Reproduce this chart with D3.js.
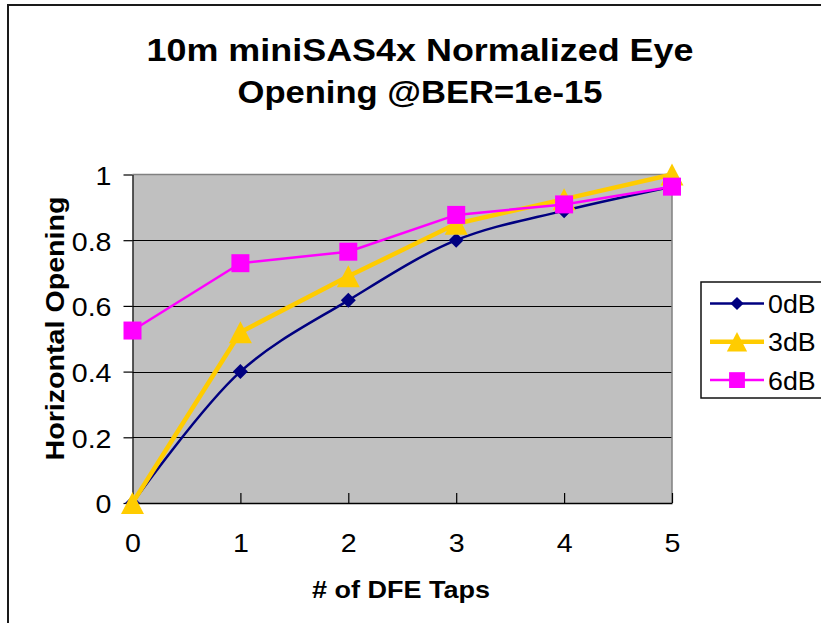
<!DOCTYPE html>
<html>
<head>
<meta charset="utf-8">
<script src="https://cdn.jsdelivr.net/npm/d3@7"></script>
<style>
  html, body { margin: 0; padding: 0; background: #fff; }
  svg { display: block; font-family: Arial, "Liberation Sans", sans-serif; }
</style>
</head>
<body>
<svg id="chart" width="821" height="623"></svg>
<script>
// DFE tap count on the x axis
const taps = [0, 1, 2, 3, 4, 5];
const tapLabels = ["0", "1", "2", "3", "4", "5"];
// Normalized horizontal eye opening per channel loss
const seriesNames = ["0dB", "3dB", "6dB"];
const open0dB = [0, 0.40, 0.617, 0.80, 0.89, 0.963];
const open3dB = [0, 0.52, 0.69, 0.85, 0.925, 1.0];
const open6dB = [0.525, 0.73, 0.765, 0.877, 0.909, 0.963];
const yTicks = [0, 0.2, 0.4, 0.6, 0.8, 1];
const yTickLabels = ["0", "0.2", "0.4", "0.6", "0.8", "1"];

const titleLines = ["10m miniSAS4x Normalized Eye", "Opening @BER=1e-15"];
const xTitle = "# of DFE Taps";
const yTitle = "Horizontal Opening";

const svg = d3.select("#chart");

// widen a text run to a given length (the chart font is set wide)
function widen(sel, factor) {
  sel.each(function () {
    const w = this.getComputedTextLength();
    d3.select(this).attr("textLength", w * factor).attr("lengthAdjust", "spacingAndGlyphs");
  });
}

// outer chart frame
svg.append("rect")
  .attr("x", 8).attr("y", 5).attr("width", 860).attr("height", 700)
  .attr("fill", "#fff").attr("stroke", "#1a1a1a").attr("stroke-width", 2);

// plot area
const plot = { left: 132.5, right: 672, top: 174.5, bottom: 503 };
const x = d3.scaleLinear().domain([0, 5]).range([plot.left, plot.right]);
const y = d3.scaleLinear().domain([0, 1]).range([plot.bottom, plot.top]);

svg.append("rect")
  .attr("x", plot.left).attr("y", plot.top)
  .attr("width", plot.right - plot.left).attr("height", plot.bottom - plot.top)
  .attr("fill", "#c0c0c0");

// horizontal gridlines
svg.append("g")
  .selectAll("line")
  .data(yTicks.filter(v => v > 0 && v < 1))
  .join("line")
  .attr("x1", plot.left).attr("x2", plot.right)
  .attr("y1", d => Math.round(y(d)) + 0.5).attr("y2", d => Math.round(y(d)) + 0.5)
  .attr("stroke", "#000").attr("stroke-width", 1);

// top and right plot border
svg.append("path")
  .attr("d", `M${plot.left},${plot.top}H${plot.right}V${plot.bottom}`)
  .attr("fill", "none").attr("stroke", "#808080").attr("stroke-width", 1.5);

// y axis
const yAxis = svg.append("g")
  .attr("transform", `translate(${plot.left},0)`)
  .call(d3.axisLeft(y).tickValues(yTicks).tickFormat((d, i) => yTickLabels[i])
    .tickSizeInner(9).tickSizeOuter(0).tickPadding(12));
yAxis.select(".domain").attr("stroke", "#000").attr("stroke-width", 1.2);
yAxis.selectAll(".tick line").attr("stroke", "#000").attr("stroke-width", 1.2);
yAxis.selectAll(".tick text")
  .attr("font-size", 26).attr("fill", "#000").attr("dy", "0.38em")
  .style("font-family", "Arial, 'Liberation Sans', sans-serif")
  .call(widen, 1.1);

// x axis, ticks pointing into the plot
const xAxis = svg.append("g")
  .attr("transform", `translate(0,${plot.bottom})`)
  .call(d3.axisBottom(x).tickValues(taps).tickFormat((d, i) => tapLabels[i])
    .tickSizeInner(-10).tickSizeOuter(0).tickPadding(31));
xAxis.select(".domain").attr("stroke", "#000").attr("stroke-width", 1.5);
xAxis.selectAll(".tick line").attr("stroke", "#000").attr("stroke-width", 1.2);
xAxis.selectAll(".tick text")
  .attr("font-size", 26).attr("fill", "#000")
  .style("font-family", "Arial, 'Liberation Sans', sans-serif")
  .call(widen, 1.1);

// marker shapes
function markerPath(kind, scale) {
  const p = d3.path();
  if (kind === "diamond") {
    const r = 7.5 * scale;
    p.moveTo(0, -r); p.lineTo(r, 0); p.lineTo(0, r); p.lineTo(-r, 0); p.closePath();
  } else if (kind === "triangle") {
    const w = 23 * scale, h = 22 * scale;
    p.moveTo(0, -h / 2); p.lineTo(w / 2, h / 2); p.lineTo(-w / 2, h / 2); p.closePath();
  } else {
    const s = 9 * scale;
    p.rect(-s, -s, 2 * s, 2 * s);
  }
  return p.toString();
}

const series = [
  { name: seriesNames[0], values: open0dB, color: "#000080", width: 2.5, marker: "diamond", curve: d3.curveCatmullRom.alpha(0.5) },
  { name: seriesNames[1], values: open3dB, color: "#ffcc00", width: 4.5, marker: "triangle", curve: d3.curveLinear },
  { name: seriesNames[2], values: open6dB, color: "#ff00ff", width: 2.5, marker: "square", curve: d3.curveLinear }
];

series.forEach(s => {
  const pts = taps.map((t, i) => [t, s.values[i]]);
  const line = d3.line().x(d => x(d[0])).y(d => y(d[1])).curve(s.curve);
  const g = svg.append("g");
  g.append("path")
    .attr("d", line(pts))
    .attr("fill", "none").attr("stroke", s.color)
    .attr("stroke-width", s.width).attr("stroke-linejoin", "round");
  g.selectAll("path.mk")
    .data(pts)
    .join("path")
    .attr("class", "mk")
    .attr("transform", d => `translate(${x(d[0])},${y(d[1])})`)
    .attr("d", markerPath(s.marker, 1))
    .attr("fill", s.color);
});

// legend
const legend = svg.append("g");
legend.append("rect")
  .attr("x", 701).attr("y", 282).attr("width", 200).attr("height", 116)
  .attr("fill", "#fff").attr("stroke", "#111").attr("stroke-width", 1.5);
series.forEach((s, i) => {
  const cy = 303.5 + i * 38.3;
  legend.append("line")
    .attr("x1", 710).attr("x2", 764).attr("y1", cy).attr("y2", cy)
    .attr("stroke", s.color).attr("stroke-width", s.width);
  legend.append("path")
    .attr("transform", `translate(737,${cy})`)
    .attr("d", markerPath(s.marker, 0.88))
    .attr("fill", s.color);
  legend.append("text")
    .attr("x", 768).attr("y", cy + 9.5)
    .attr("font-size", 26).attr("fill", "#000")
    .text(s.name)
    .call(widen, 1.03);
});

// title
svg.append("g").selectAll("text")
  .data(titleLines)
  .join("text")
  .attr("x", 420).attr("y", (d, i) => 60.5 + i * 42.5)
  .attr("text-anchor", "middle")
  .attr("font-size", 31).attr("font-weight", "bold").attr("fill", "#000")
  .attr("textLength", (d, i) => [547, 365][i])
  .attr("lengthAdjust", "spacingAndGlyphs")
  .text(d => d);

// axis titles
svg.append("text")
  .attr("x", 401).attr("y", 597.5)
  .attr("text-anchor", "middle")
  .attr("font-size", 24).attr("font-weight", "bold").attr("fill", "#000")
  .attr("textLength", 178).attr("lengthAdjust", "spacingAndGlyphs")
  .text(xTitle);

svg.append("text")
  .attr("transform", "translate(64,328.5) rotate(-90)")
  .attr("text-anchor", "middle")
  .attr("font-size", 25).attr("font-weight", "bold").attr("fill", "#000")
  .attr("textLength", 264).attr("lengthAdjust", "spacingAndGlyphs")
  .text(yTitle);
</script>
</body>
</html>
